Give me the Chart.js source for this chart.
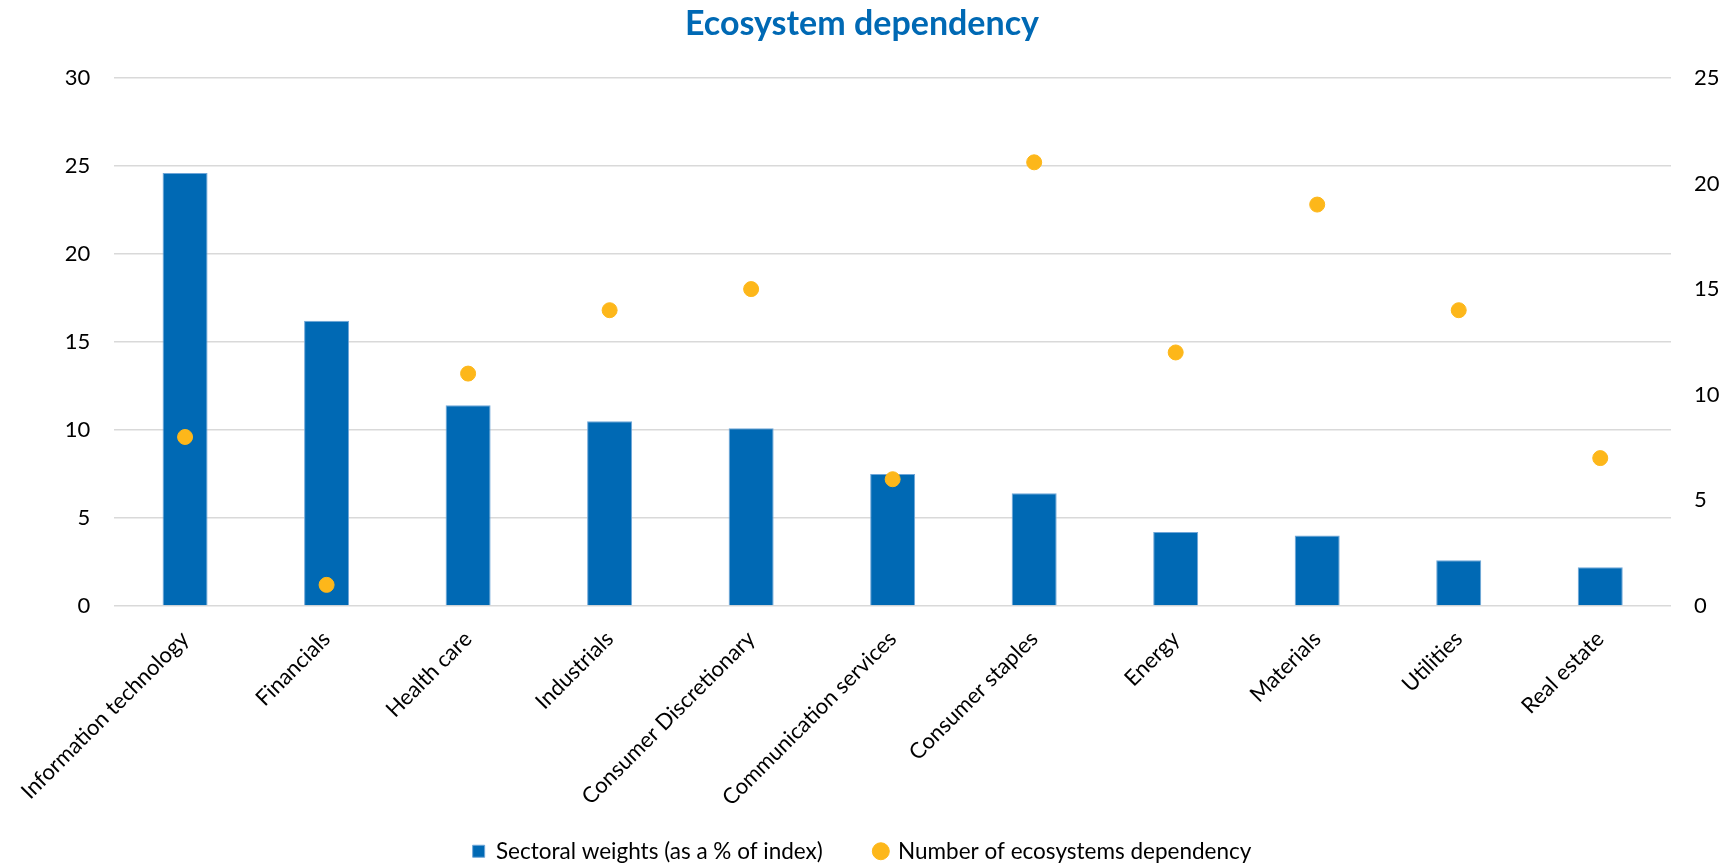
<!DOCTYPE html>
<html>
<head>
<meta charset="utf-8">
<script src="https://cdn.jsdelivr.net/npm/chart.js@4.4.1/dist/chart.umd.min.js"></script>
<style>
  html, body { margin: 0; padding: 0; background: #fff; }
  #wrap { width: 1724px; height: 865px; position: relative; }
</style>
</head>
<body>
<div id="wrap"><canvas id="chart"></canvas></div>
<script>
const sectors = [
  "Information technology", "Financials", "Health care", "Industrials",
  "Consumer Discretionary", "Communication services", "Consumer staples",
  "Energy", "Materials", "Utilities", "Real estate",
];
const sectorWeights = [24.6, 16.2, 11.4, 10.5, 10.1, 7.5, 6.4, 4.2, 4.0, 2.6, 2.2];
const ecosystemCount = [8, 1, 11, 14, 15, 6, 21, 12, 19, 14, 7];

const blue = "#0069b4";
const gold = "#fdb71a";
const textColor = "#000000";
const fontFamily = "Lato, 'Noto Sans', sans-serif";

// the rotated category labels reach below the x scale box into the legend band,
// so don't let chart.js clip them to the scale
const noLabelClip = {
  id: "noLabelClip",
  beforeDraw(chart) {
    chart.scales.x._computeLabelArea = () => undefined;
  },
};

const ctx = document.getElementById("chart");

let myChart = new Chart(ctx, {
  plugins: [noLabelClip],
  data: {
    labels: sectors,
    datasets: [
      {
        type: "bar",
        label: "Sectoral weights (as a % of index)",
        data: sectorWeights,
        backgroundColor: blue,
        borderColor: "#6fa6d8",
        borderWidth: 1,
        barPercentage: 0.318,
        categoryPercentage: 1,
        yAxisID: "y",
        pointStyle: "rect",
        order: 2,
      },
      {
        type: "line",
        label: "Number of ecosystems dependency",
        data: ecosystemCount,
        showLine: false,
        pointRadius: 7.5,
        pointHoverRadius: 7.5,
        pointBackgroundColor: gold,
        pointBorderColor: gold,
        backgroundColor: gold,
        borderColor: gold,
        pointStyle: "circle",
        yAxisID: "y1",
        order: 1,
      },
    ],
  },
  options: {
    responsive: true,
    maintainAspectRatio: false,
    animation: false,
    layout: { padding: { left: 0, right: 0, top: 0, bottom: 0 } },
    plugins: {
      tooltip: { enabled: false },
      title: {
        display: true,
        text: "Ecosystem dependency",
        color: blue,
        font: { family: fontFamily, size: 34, weight: "bold" },
        padding: { top: 4, bottom: 33 },
      },
      legend: {
        position: "bottom",
        maxHeight: 77,
        labels: {
          usePointStyle: true,
          boxWidth: 12,
          boxHeight: 12,
          padding: 52,
          color: textColor,
          font: { family: fontFamily, size: 22.5 },
          sort: (a, b) => a.datasetIndex - b.datasetIndex,
        },
      },
    },
    scales: {
      x: {
        grid: { display: false, drawTicks: false },
        border: { display: false },
        ticks: {
          color: textColor,
          font: { family: fontFamily, size: 22 },
          maxRotation: 45,
          minRotation: 45,
          padding: 20,
          autoSkip: false,
        },
        afterFit: (scale) => { scale.height = 182; },
      },
      y: {
        position: "left",
        min: 0,
        max: 30,
        ticks: {
          stepSize: 5,
          color: textColor,
          font: { family: fontFamily, size: 22 },
          padding: 24,
        },
        grid: { color: "#d9d9d9", lineWidth: 1.5, drawTicks: false },
        border: { display: false },
        afterFit: (scale) => { scale.width = 114; },
      },
      y1: {
        position: "right",
        min: 0,
        max: 25,
        ticks: {
          stepSize: 5,
          color: textColor,
          font: { family: fontFamily, size: 22 },
          padding: 23,
        },
        grid: { display: false, drawTicks: false },
        border: { display: false },
        afterFit: (scale) => { scale.width = 53; },
      },
    },
  },
});
</script>
</body>
</html>
